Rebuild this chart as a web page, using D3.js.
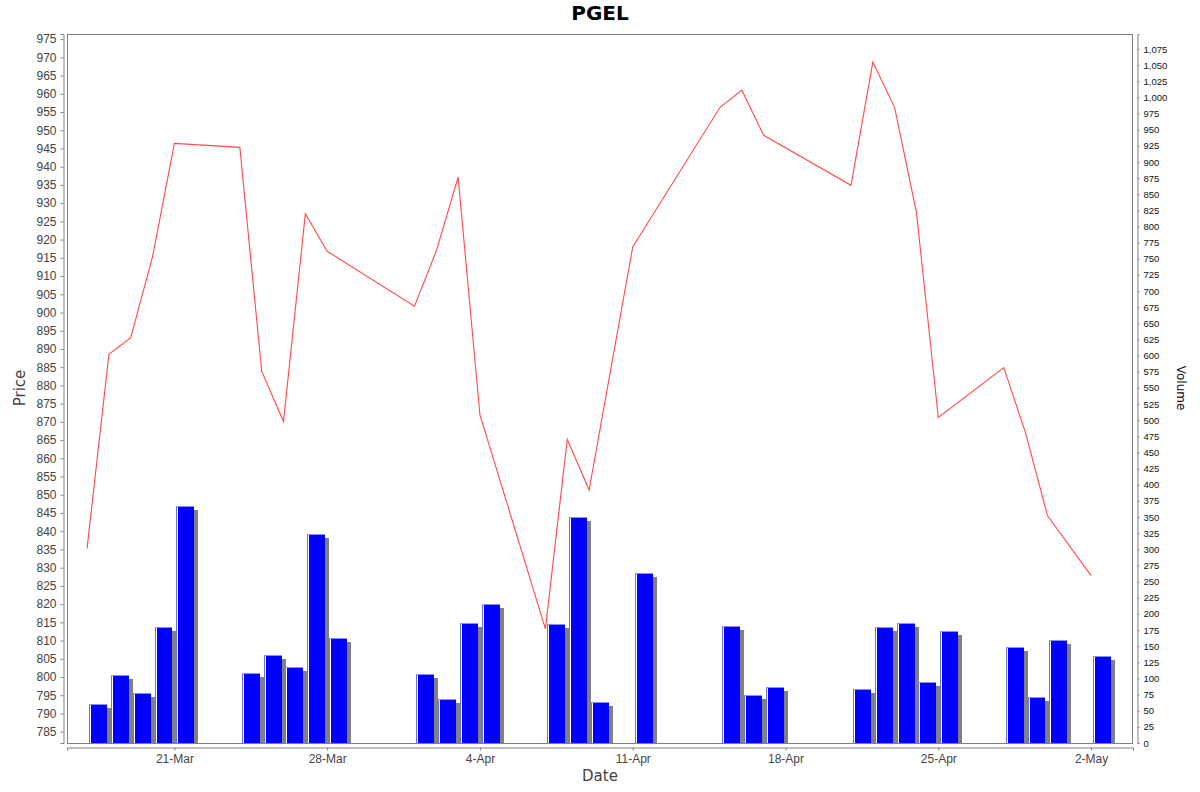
<!DOCTYPE html>
<html>
<head>
<meta charset="utf-8">
<title>PGEL</title>
<script src="https://d3js.org/d3.v7.min.js"></script>
<style>
  body { margin: 0; background: #fff; }
  svg { font-family: "DejaVu Sans", sans-serif; }
</style>
</head>
<body>
<svg width="1200" height="792"></svg>
<script>
// trading days
var dates = ["2025-03-17","2025-03-18","2025-03-19","2025-03-20","2025-03-21",
  "2025-03-24","2025-03-25","2025-03-26","2025-03-27","2025-03-28",
  "2025-04-01","2025-04-02","2025-04-03","2025-04-04",
  "2025-04-07","2025-04-08","2025-04-09","2025-04-11",
  "2025-04-15","2025-04-16","2025-04-17",
  "2025-04-21","2025-04-22","2025-04-23","2025-04-24","2025-04-25",
  "2025-04-28","2025-04-29","2025-04-30","2025-05-02"];

var prices = [835.3, 888.5, 893.1, 915.3, 946.4,
  945.3, 883.9, 870.1, 927.1, 916.8,
  901.7, 916.9, 937.1, 871.9,
  813.2, 865.2, 851.3, 918.0,
  956.3, 961.0, 948.6,
  934.9, 968.7, 956.2, 927.4, 871.2,
  884.9, 866.9, 844.3, 827.8];

var volumes = [60, 105, 78, 180, 367,
  109, 137, 117, 324, 162,
  107, 68, 186, 216,
  184, 350, 63, 264,
  182, 74, 86,
  84, 179, 186, 94, 173,
  148, 72, 160, 135];

var tickDates = ["2025-03-21","2025-03-28","2025-04-04","2025-04-11",
  "2025-04-18","2025-04-25","2025-05-02"];

var parse = d3.timeParse("%Y-%m-%d");
var data = dates.map(function(d, i) {
  return { date: parse(d), price: prices[i], volume: volumes[i] };
});

var plotLeft = 67, plotRight = 1133, plotTop = 34, plotBottom = 743;
var svg = d3.select("svg");

// a little margin either side of the data span (in days)
var pad = 0.92;
var first = data[0].date, last = d3.timeDay.offset(data[data.length - 1].date, 1);
var x = d3.scaleTime()
  .domain([new Date(+first - pad * 864e5), new Date(+last + pad * 864e5)])
  .range([plotLeft, plotRight]);

var yPrice = d3.scaleLinear().domain([781.9, 976.4]).range([plotBottom, plotTop]);
var yVol = d3.scaleLinear().domain([0, 1098.2]).range([plotBottom, plotTop]);

// plot frame
svg.append("rect")
  .attr("x", plotLeft + 0.5).attr("y", plotTop + 0.5)
  .attr("width", plotRight - plotLeft - 1).attr("height", plotBottom - plotTop)
  .attr("fill", "#fff").attr("stroke", "#808080");

// volume bars
var barGroup = svg.append("g");
data.forEach(function(d) {
  var xs = x(d.date), xe = x(d3.timeDay.offset(d.date, 1));
  var x0 = Math.round(xs + 0.09 * (xe - xs));
  var x1 = Math.round(xe - 0.09 * (xe - xs));
  var w = x1 - x0;
  var yt = Math.round(yVol(d.volume));
  barGroup.append("rect")
    .attr("x", x0 + 4).attr("y", yt + 4)
    .attr("width", w).attr("height", plotBottom - yt - 4)
    .attr("fill", "#808080");
  barGroup.append("rect")
    .attr("x", x0).attr("y", yt)
    .attr("width", w).attr("height", plotBottom - yt)
    .attr("fill", "#0000ff");
  barGroup.append("rect")
    .attr("x", x0).attr("y", yt)
    .attr("width", 1).attr("height", plotBottom - yt)
    .attr("fill", "#6a6aff");
  barGroup.append("rect")
    .attr("x", x0 + 1).attr("y", yt)
    .attr("width", 1).attr("height", plotBottom - yt)
    .attr("fill", "#ffffff");
  barGroup.append("rect")
    .attr("x", x0).attr("y", yt)
    .attr("width", w).attr("height", 1)
    .attr("fill", "#8c8cff");
});

// price line
var line = d3.line()
  .x(function(d) { return x(d.date); })
  .y(function(d) { return yPrice(d.price); });

svg.append("path")
  .datum(data)
  .attr("d", line)
  .attr("fill", "none")
  .attr("stroke", "#ff4a4a")
  .attr("stroke-width", 1.1);

// left axis (price)
var priceTicks = d3.range(785, 976, 5);
var leftAxis = svg.append("g")
  .attr("transform", "translate(63.5,0)")
  .call(d3.axisLeft(yPrice).tickValues(priceTicks).tickSizeOuter(0).tickSize(3).tickPadding(4));
leftAxis.select(".domain").attr("stroke", "#808080");
leftAxis.selectAll(".tick line").attr("stroke", "#808080");
leftAxis.selectAll("text").attr("fill", "#444").style("font-size", "12px");

// right axis (volume)
var volTicks = d3.range(0, 1076, 25);
var rightAxis = svg.append("g")
  .attr("transform", "translate(1137.5,0)")
  .call(d3.axisRight(yVol).tickValues(volTicks).tickFormat(d3.format(","))
    .tickSizeOuter(0).tickSize(2).tickPadding(4));
rightAxis.select(".domain").attr("stroke", "#808080");
rightAxis.selectAll(".tick line").attr("stroke", "#808080");
rightAxis.selectAll("text").attr("fill", "#111").style("font-size", "9.5px");

// bottom axis (date)
var bottomAxis = svg.append("g")
  .attr("transform", "translate(0,747.5)")
  .call(d3.axisBottom(x).tickValues(tickDates.map(parse))
    .tickFormat(d3.timeFormat("%-d-%b")).tickSizeOuter(0).tickSize(3).tickPadding(4));
bottomAxis.select(".domain").attr("stroke", "#808080");
bottomAxis.selectAll(".tick line").attr("stroke", "#808080");
bottomAxis.selectAll("text").attr("fill", "#444").style("font-size", "12px");

// titles
svg.append("text")
  .attr("x", 600).attr("y", 20)
  .attr("text-anchor", "middle")
  .style("font-size", "20px").style("font-weight", "bold")
  .attr("fill", "#000")
  .text("PGEL");

svg.append("text")
  .attr("transform", "translate(25,388) rotate(-90)")
  .attr("text-anchor", "middle")
  .style("font-size", "15px")
  .attr("fill", "#444")
  .text("Price");

svg.append("text")
  .attr("transform", "translate(1177,388) rotate(90)")
  .attr("text-anchor", "middle")
  .style("font-size", "12px")
  .attr("fill", "#111")
  .text("Volume");

svg.append("text")
  .attr("x", 600).attr("y", 781)
  .attr("text-anchor", "middle")
  .style("font-size", "15px")
  .attr("fill", "#444")
  .text("Date");
</script>
</body>
</html>
